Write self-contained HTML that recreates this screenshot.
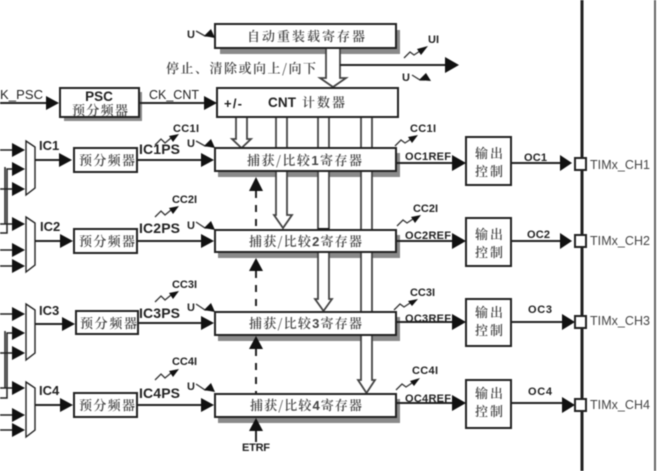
<!DOCTYPE html>
<html><head><meta charset="utf-8"><style>
html,body{margin:0;padding:0;background:#fff;width:664px;height:471px;overflow:hidden}
svg{display:block;filter:blur(.6px)}
.s{font-family:"Liberation Sans",sans-serif;font-weight:bold;fill:#222}
.c{font-family:"Noto Serif CJK SC","Liberation Serif",serif;fill:#444;font-size:13px;font-weight:600}
.b{fill:#fff;stroke:#222;stroke-width:2}
.l{fill:none;stroke:#222;stroke-width:2}
.t{fill:none;stroke:#333;stroke-width:1.3}
.d{stroke:#222;stroke-width:2;stroke-dasharray:7 7;fill:none}
.h{fill:#111}
.g{fill:#8a8a8a}
.bus{fill:#fff;stroke:#444;stroke-width:1.800}
</style></head><body>
<svg width="664" height="471" viewBox="0 0 664 471" xmlns="http://www.w3.org/2000/svg">
<!-- pins rail -->
<path d="M582 0V471" stroke="#222" stroke-width="3" fill="none"/>
<path d="M655 0V471" stroke="#666" stroke-width="2" fill="none"/>

<!-- shadows -->
<rect class="g" x="220" y="30" width="180" height="24"/>
<rect class="g" x="64" y="92" width="78" height="29"/>
<rect class="g" x="218" y="153" width="182" height="24"/>
<rect class="g" x="218" y="235" width="182" height="23"/>
<rect class="g" x="218" y="317" width="182" height="24"/>
<rect class="g" x="218" y="399" width="182" height="24"/>

<!-- buses -->
<path class="bus" d="M326 48V78H320L333 87L346 78H340V48Z"/>
<path class="l" d="M340 65H446"/>
<polygon class="h" points="445,57 459,65 445,73"/>
<path class="bus" d="M236 117V139H232L241.500 148L251 139H247V117Z"/>
<path class="bus" d="M276 117V215H274L283 228L292 215H287V117Z"/>
<path class="bus" d="M318 117V299H315L323.500 311L332 299H329V117Z"/>
<path class="bus" d="M361 117V380H358L366.500 393L375 380H372V117Z"/>
<path d="M318 229H329" stroke="#111" stroke-width="2"/>

<!-- registers -->
<rect class="b" x="215" y="24" width="181" height="24"/>
<rect class="b" x="217" y="88" width="181" height="29"/>
<rect class="b" x="60" y="88" width="79" height="29"/>
<rect class="b" x="215" y="148" width="181" height="23"/>
<rect class="b" x="215" y="230" width="181" height="22"/>
<rect class="b" x="215" y="312" width="181" height="23"/>
<rect class="b" x="215" y="394" width="181" height="23"/>

<!-- prescalers -->
<rect class="b" x="74" y="148" width="63" height="24"/>
<rect class="b" x="74" y="229" width="63" height="24"/>
<rect class="b" x="76" y="311" width="62" height="23"/>
<rect class="b" x="74" y="393" width="63" height="24"/>

<!-- output control -->
<rect class="b" x="466" y="137" width="45" height="48"/>
<rect class="b" x="466" y="218" width="45" height="48"/>
<rect class="b" x="466" y="299" width="45" height="47"/>
<rect class="b" x="466" y="380" width="45" height="48"/>

<!-- muxes -->
<path class="b" style="stroke-width:1.400" d="M26 141L35 147V188L26 195Z"/>
<path class="b" style="stroke-width:1.400" d="M26 217L35 223V265L26 272Z"/>
<path class="b" style="stroke-width:1.400" d="M26 304L35 310V353L26 360Z"/>
<path class="b" style="stroke-width:1.400" d="M26 382L35 388V430L26 437Z"/>

<!-- left wiring -->
<path class="l" style="stroke-width:1.500" d="M0 150H13M13 169H7V233H0M5 167V224M0 189H13M0 224H13M0 250H13M0 266H13"/>
<path class="l" style="stroke-width:1.500" d="M0 314H13M13 333H7V398H0M5 331V388M0 353H13M0 388H13M0 415H13M0 430H13"/>
<polygon class="h" points="12,143 25,150 12,157"/>
<polygon class="h" points="12,162 25,169 12,176"/>
<polygon class="h" points="12,182 25,189 12,196"/>
<polygon class="h" points="12,217 25,224 12,231"/>
<polygon class="h" points="12,243 25,250 12,257"/>
<polygon class="h" points="12,259 25,266 12,273"/>
<polygon class="h" points="12,307 25,314 12,321"/>
<polygon class="h" points="12,326 25,333 12,340"/>
<polygon class="h" points="12,346 25,353 12,360"/>
<polygon class="h" points="12,381 25,388 12,395"/>
<polygon class="h" points="12,408 25,415 12,422"/>
<polygon class="h" points="12,423 25,430 12,437"/>

<!-- horizontal flow -->
<path class="l" d="M0 103H47M139 103H205"/>
<polygon class="h" points="46,96 59,103 46,110"/>
<polygon class="h" points="204,96 217,103 204,110"/>
<path class="l" d="M35 160H60M137 160H202"/>
<polygon class="h" points="59,153 72,160 59,167"/>
<polygon class="h" points="201,153 214,160 201,167"/>
<path class="l" d="M35 241H60M137 241H202"/>
<polygon class="h" points="60,234 73,241 60,248"/>
<polygon class="h" points="201,234 214,241 201,248"/>
<path class="l" d="M35 324H63M138 323H202"/>
<polygon class="h" points="62,317 75,324 62,331"/>
<polygon class="h" points="201,316 214,323 201,330"/>
<path class="l" d="M35 405H60M137 405H202"/>
<polygon class="h" points="60,398 73,405 60,412"/>
<polygon class="h" points="201,398 214,405 201,412"/>

<!-- output flow -->
<path class="l" d="M396 163H453M511 163H560"/>
<polygon class="h" points="452,155 466,163 452,171"/>
<polygon class="h" points="560,155 572,163 560,171"/>
<path class="l" d="M396 241H453M511 241H560"/>
<polygon class="h" points="452,233 466,241 452,249"/>
<polygon class="h" points="560,233 572,241 560,249"/>
<path class="l" d="M396 322H453M511 322H563"/>
<polygon class="h" points="452,314 466,322 452,330"/>
<polygon class="h" points="562,314 575,322 562,330"/>
<path class="l" d="M396 403H453M511 403H563"/>
<polygon class="h" points="452,395 466,403 452,411"/>
<polygon class="h" points="562,397 575,405 562,413"/>

<!-- pins -->
<rect class="b" x="575" y="158" width="11" height="12"/>
<rect class="b" x="575" y="235" width="11" height="12"/>
<rect class="b" x="575" y="316" width="11" height="12"/>
<rect class="b" x="575" y="399" width="11" height="12"/>

<!-- dash lines and arrows -->
<path class="d" d="M256 191V229"/>
<polygon class="h" points="249,191 256,177 263,191"/>
<path class="d" d="M256 271V311"/>
<polygon class="h" points="249,271 256,258 263,271"/>
<path class="d" d="M256 349V393"/>
<polygon class="h" points="249,349 256,336 263,349"/>
<path class="l" d="M256 431V442"/>
<polygon class="h" points="249,431 256,418 263,431"/>

<!-- squiggles -->
<path class="t" d="M196 31L205 36H210"/><polygon class="h" points="204,36 211,29 215,38"/>
<path class="t" d="M196 141L205 146H210"/><polygon class="h" points="204,146 211,139 215,148"/>
<path class="t" d="M196 222L205 228H210"/><polygon class="h" points="204,228 211,221 215,230"/>
<path class="t" d="M196 304L205 310H210"/><polygon class="h" points="204,310 211,303 215,312"/>
<path class="t" d="M196 384L205 390H210"/><polygon class="h" points="204,390 211,383 215,392"/>
<path class="t" d="M412 75L420 80H425"/><polygon class="h" points="419,80 426,73 431,81"/>

<path class="t" d="M155 145L161 139L165 143L171 138"/><polygon class="h" points="169,136 179,134 173,142"/>
<path class="t" d="M155 217L161 211L165 215L171 210"/><polygon class="h" points="169,208 179,206 173,214"/>
<path class="t" d="M155 302L161 296L165 300L171 295"/><polygon class="h" points="169,293 179,291 173,299"/>
<path class="t" d="M155 380L161 374L165 378L171 373"/><polygon class="h" points="169,371 179,369 173,377"/>
<path class="t" d="M395 146L401 140L405 143L411 139"/><polygon class="h" points="408,137 418,135 412,143"/>
<path class="t" d="M397 226L403 220L407 223L413 219"/><polygon class="h" points="411,217 421,215 415,223"/>
<path class="t" d="M394 310L400 304L404 307L410 303"/><polygon class="h" points="408,301 418,299 412,306"/>
<path class="t" d="M396 390L402 384L406 387L412 383"/><polygon class="h" points="410,381 420,378 414,386"/>
<path class="t" d="M404 58L410 52L414 55L420 51"/><polygon class="h" points="417,49 428,46 421,55"/>

<!-- CJK text -->
<text class="c" x="247" y="41" textLength="118">自动重装载寄存器</text>
<text class="c" x="166" y="73" textLength="150">停止、清除或向上/向下</text>
<text class="c" x="72" y="115" textLength="56">预分频器</text>
<text class="s" x="99" y="101" text-anchor="middle" font-size="13.500" fill="#333">PSC</text>
<text class="s" x="224" y="108" font-size="13" textLength="18">+/-</text>
<text class="s" x="268" y="107" font-size="13.500" textLength="28">CNT</text>
<text class="c" x="302" y="107" textLength="43">计数器</text>

<text class="c" x="79" y="165" textLength="56">预分频器</text>
<text class="c" x="79" y="246" textLength="56">预分频器</text>
<text class="c" x="80" y="328" textLength="57">预分频器</text>
<text class="c" x="79" y="410" textLength="56">预分频器</text>

<text class="c" x="247" y="165" textLength="115">捕获/比较<tspan font-family="Liberation Sans" font-weight="bold">1</tspan>寄存器</text>
<text class="c" x="249" y="246" textLength="113">捕获/比较<tspan font-family="Liberation Sans" font-weight="bold">2</tspan>寄存器</text>
<text class="c" x="249" y="328" textLength="113">捕获/比较<tspan font-family="Liberation Sans" font-weight="bold">3</tspan>寄存器</text>
<text class="c" x="250" y="410" textLength="112">捕获/比较<tspan font-family="Liberation Sans" font-weight="bold">4</tspan>寄存器</text>

<text class="c" x="475" y="158" textLength="28">输出</text><text class="c" x="475" y="176" textLength="28">控制</text>
<text class="c" x="475" y="239" textLength="28">输出</text><text class="c" x="475" y="257" textLength="28">控制</text>
<text class="c" x="475" y="317" textLength="28">输出</text><text class="c" x="475" y="335" textLength="28">控制</text>
<text class="c" x="475" y="398" textLength="28">输出</text><text class="c" x="475" y="416" textLength="28">控制</text>

<!-- Latin labels -->
<g class="s">
<text x="0" y="99" textLength="43" style="font-weight:normal" font-size="13">K_PSC</text>
<text x="149" y="99" textLength="50" style="font-weight:normal" font-size="12.500">CK_CNT</text>
</g>
<g class="s" font-size="13">
<text x="39" y="150">IC1</text><text x="40" y="231">IC2</text><text x="39" y="315">IC3</text><text x="39" y="395">IC4</text>
</g>
<g class="s" font-size="14">
<text x="139" y="154" textLength="41">IC1PS</text>
<text x="139" y="233" textLength="41">IC2PS</text>
<text x="139" y="318" textLength="41">IC3PS</text>
<text x="139" y="398" textLength="41">IC4PS</text>
</g>
<g class="s" font-size="11">
<text x="173" y="132" textLength="26">CC1I</text>
<text x="172" y="203" textLength="25">CC2I</text>
<text x="172" y="288" textLength="25">CC3I</text>
<text x="172" y="365" textLength="25">CC4I</text>
<text x="410" y="132" textLength="26">CC1I</text>
<text x="413" y="212" textLength="25">CC2I</text>
<text x="410" y="296" textLength="25">CC3I</text>
<text x="412" y="374" textLength="26">CC4I</text>
<text x="428" y="43" textLength="11">UI</text>
<text x="242" y="451" textLength="28">ETRF</text>
<text x="187" y="38">U</text><text x="187" y="147">U</text><text x="187" y="229">U</text><text x="187" y="311">U</text><text x="187" y="390">U</text>
<text x="402" y="81">U</text>
<text x="405" y="160" textLength="46">OC1REF</text>
<text x="405" y="239" textLength="46">OC2REF</text>
<text x="405" y="322" textLength="46">OC3REF</text>
<text x="405" y="402" textLength="46">OC4REF</text>
<text x="524" y="161" textLength="23">OC1</text>
<text x="527" y="238" textLength="23">OC2</text>
<text x="528" y="313" textLength="24">OC3</text>
<text x="528" y="395" textLength="24">OC4</text>
</g>
<g font-family="Liberation Sans, sans-serif" font-size="12.500" fill="#444">
<text x="590" y="169" textLength="60">TIMx_CH1</text>
<text x="590" y="245" textLength="60">TIMx_CH2</text>
<text x="590" y="325" textLength="60">TIMx_CH3</text>
<text x="590" y="409" textLength="60">TIMx_CH4</text>
</g>
</svg>
</body></html>
